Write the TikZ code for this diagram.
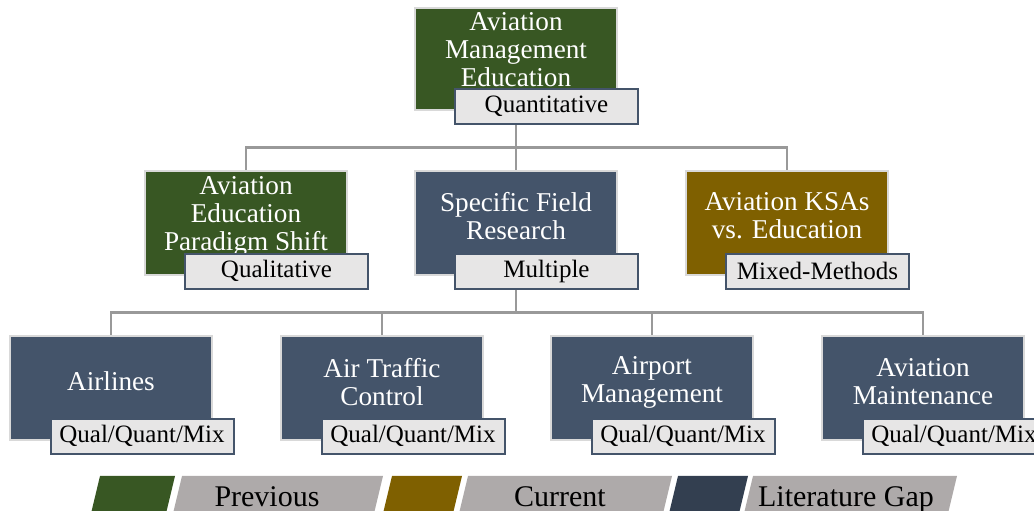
\documentclass[tikz,border=0pt]{standalone}
\usepackage{fontspec}
\setmainfont{Liberation Serif}
\usetikzlibrary{backgrounds}
\definecolor{dgreen}{HTML}{385723}
\definecolor{dgold}{HTML}{7F6000}
\definecolor{dblue}{HTML}{44546A}
\definecolor{legblue}{HTML}{333F50}
\definecolor{boxedge}{HTML}{D9D9D9}
\definecolor{tagedge}{HTML}{44546A}
\definecolor{tagfill}{HTML}{E7E6E6}
\definecolor{leggray}{HTML}{AEAAAA}
\definecolor{conncol}{HTML}{999999}
\tikzset{
  box/.style={draw=boxedge, line width=1.5pt, minimum width=202pt, minimum height=104pt, inner sep=0pt},
  boxtext/.style={text=white, font=\fontsize{27.2}{28}\selectfont, align=center, inner sep=0pt},
  tag/.style={draw=tagedge, line width=2pt, fill=tagfill, minimum width=183pt, minimum height=35pt, inner sep=0pt, font=\fontsize{25}{26}\selectfont},
  conn/.style={draw=conncol, line width=2.5pt},
  legtext/.style={font=\fontsize{30}{32}\selectfont, anchor=base, inner sep=0pt}
}
\begin{document}
\begin{tikzpicture}[x=1pt,y=1pt]
\useasboundingbox (0,0) rectangle (1034,511);
% main boxes
\node[box, fill=dgreen, minimum height=102pt] (top) at (516,452) {};
\node[box, fill=dgreen] (l2a) at (246,288) {};
\node[box, fill=dblue]  (l2b) at (516,288) {};
\node[box, fill=dgold]  (l2c) at (787,288) {};
\node[box, fill=dblue]  (l3a) at (111,123) {};
\node[box, fill=dblue]  (l3b) at (382,123) {};
\node[box, fill=dblue]  (l3c) at (652,123) {};
\node[box, fill=dblue]  (l3d) at (923,123) {};
% box texts
\node[boxtext] (topt) at ([yshift=9pt]top.center) {Aviation\\Management\\Education};
\node[boxtext] (l2at) at ([yshift=7pt]l2a.center) {Aviation\\Education\\Paradigm Shift};
\node[boxtext] (l2bt) at ([yshift=7pt]l2b.center) {Specific Field\\Research};
\node[boxtext] (l2ct) at ([yshift=7pt]l2c.center) {Aviation KSAs\\vs. Education};
\node[boxtext] (l3at) at ([yshift=7pt]l3a.center) {Airlines};
\node[boxtext] (l3bt) at ([yshift=6pt]l3b.center) {Air Traffic\\Control};
\node[boxtext] (l3ct) at ([yshift=6pt]l3c.center) {Airport\\Management};
\node[boxtext] (l3dt) at ([yshift=6pt]l3d.center) {Aviation\\Maintenance};
% tags
\node[tag] (topq) at ([xshift=30.5pt,yshift=4.5pt]top.south) {Quantitative};
\node[tag] (l2aq) at ([xshift=30.5pt,yshift=4.5pt]l2a.south) {Qualitative};
\node[tag] (l2bq) at ([xshift=30.5pt,yshift=4.5pt]l2b.south) {Multiple};
\node[tag] (l2cq) at ([xshift=30.5pt,yshift=4.5pt]l2c.south) {Mixed-Methods};
\node[tag] (l3aq) at ([xshift=31pt,yshift=4.5pt]l3a.south) {Qual/Quant/Mix};
\node[tag] (l3bq) at ([xshift=31pt,yshift=4.5pt]l3b.south) {Qual/Quant/Mix};
\node[tag] (l3cq) at ([xshift=31pt,yshift=4.5pt]l3c.south) {Qual/Quant/Mix};
\node[tag] (l3dq) at ([xshift=31pt,yshift=4.5pt]l3d.south) {Qual/Quant/Mix};
% connectors
\begin{scope}[on background layer]
\draw[conn] (top.south) -- ++(0,-37) -| (l2a.north);
\draw[conn] (top.south) -- (l2b.north);
\draw[conn] (top.south) -- ++(0,-37) -| (l2c.north);
\draw[conn] (l2b.south) -- ++(0,-37) -| (l3a.north);
\draw[conn] (l2b.south) -- ++(0,-37) -| (l3b.north);
\draw[conn] (l2b.south) -- ++(0,-37) -| (l3c.north);
\draw[conn] (l2b.south) -- ++(0,-37) -| (l3d.north);
\end{scope}
% legend
\fill[dgreen]  (100,35) -- (175,35) -- (166.6,0) -- (91.6,0) -- cycle;
\fill[leggray] (182,35) -- (383,35) -- (374.6,0) -- (173.6,0) -- cycle;
\fill[dgold]   (392,35) -- (462,35) -- (453.6,0) -- (383.6,0) -- cycle;
\fill[leggray] (468,35) -- (672,35) -- (663.6,0) -- (459.6,0) -- cycle;
\fill[legblue] (678,35) -- (748,35) -- (739.6,0) -- (669.6,0) -- cycle;
\fill[leggray] (753,35) -- (957,35) -- (948.6,0) -- (744.6,0) -- cycle;
\node[legtext] (lprev) at (267,4.5) {Previous};
\node[legtext] (lcur) at (560,4.5) {Current};
\node[legtext] (lgap) at (846,4.5) {Literature Gap};
\end{tikzpicture}
\end{document}
